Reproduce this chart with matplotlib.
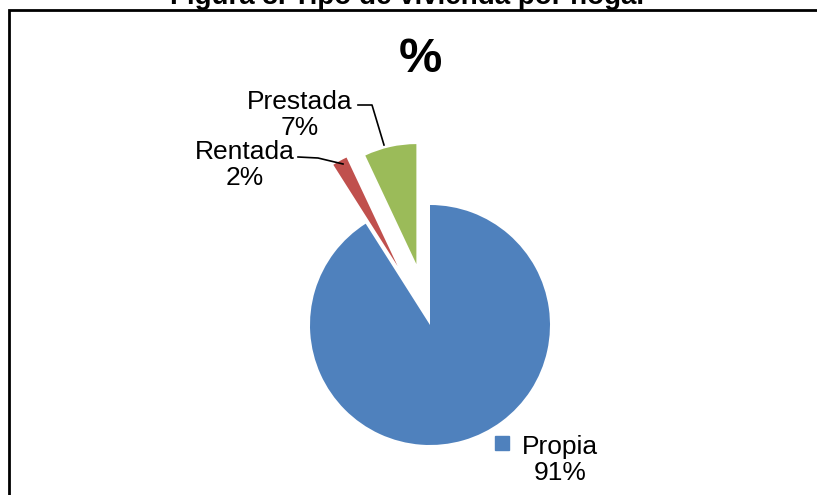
import matplotlib.pyplot as plt
from matplotlib.patches import Rectangle

plt.rcParams['font.family'] = ['Liberation Sans', 'DejaVu Sans']

# datos
categorias = ['Propia', 'Rentada', 'Prestada']
porcentajes = [91, 2, 7]
colores = ['#4F81BD', '#C0504D', '#9BBB59']
separacion = [0, 0.56, 0.52]

W, H = 817, 495
R = 120
fig = plt.figure(figsize=(W / 100, H / 100), dpi=100)
ax = fig.add_axes([0, 0, 1, 1])
ax.set_xlim(0, W)
ax.set_ylim(0, H)
ax.set_aspect('equal')
ax.axis('off')

# marco del grafico (se sale por la derecha y por abajo)
fig.patches.append(Rectangle((9 / W, -0.1), 1.2, 1 - 10 / H + 0.1,
                             transform=fig.transFigure, fill=False,
                             edgecolor='black', linewidth=2))

# titulo de la figura, cortado arriba
fig.text(0.5, 1 - 4 / H, 'Figura 8. Tipo de vivienda por hogar', ha='center',
         va='baseline', fontsize=20, fontweight='bold')

ax.text(420, H - 60, '%', ha='center', va='center', fontsize=35, fontweight='bold')

# explode en matplotlib va en unidades absolutas
ax.pie(porcentajes, colors=colores, explode=[e * R for e in separacion],
       startangle=90, counterclock=False, radius=R, center=(430, H - 325),
       wedgeprops=dict(linewidth=0))
ax.set_xlim(0, W)
ax.set_ylim(0, H)

# etiquetas
ax.text(300, H - 115, 'Prestada\n7%', ha='center', va='center', fontsize=19,
        linespacing=1.1)
ax.plot([358, 372, 384], [H - 105, H - 105, H - 145], color='black', lw=1.2)

ax.text(245, H - 165, 'Rentada\n2%', ha='center', va='center', fontsize=19,
        linespacing=1.1)
ax.plot([298, 318, 343], [H - 157, H - 158, H - 164], color='black', lw=1.2)

ax.plot([502], [H - 443], marker='s', markersize=9.5, color=colores[0],
        linestyle='none')
ax.text(560, H - 460, 'Propia\n91%', ha='center', va='center', fontsize=19,
        linespacing=1.1)

fig.savefig('out.png', dpi=100)
